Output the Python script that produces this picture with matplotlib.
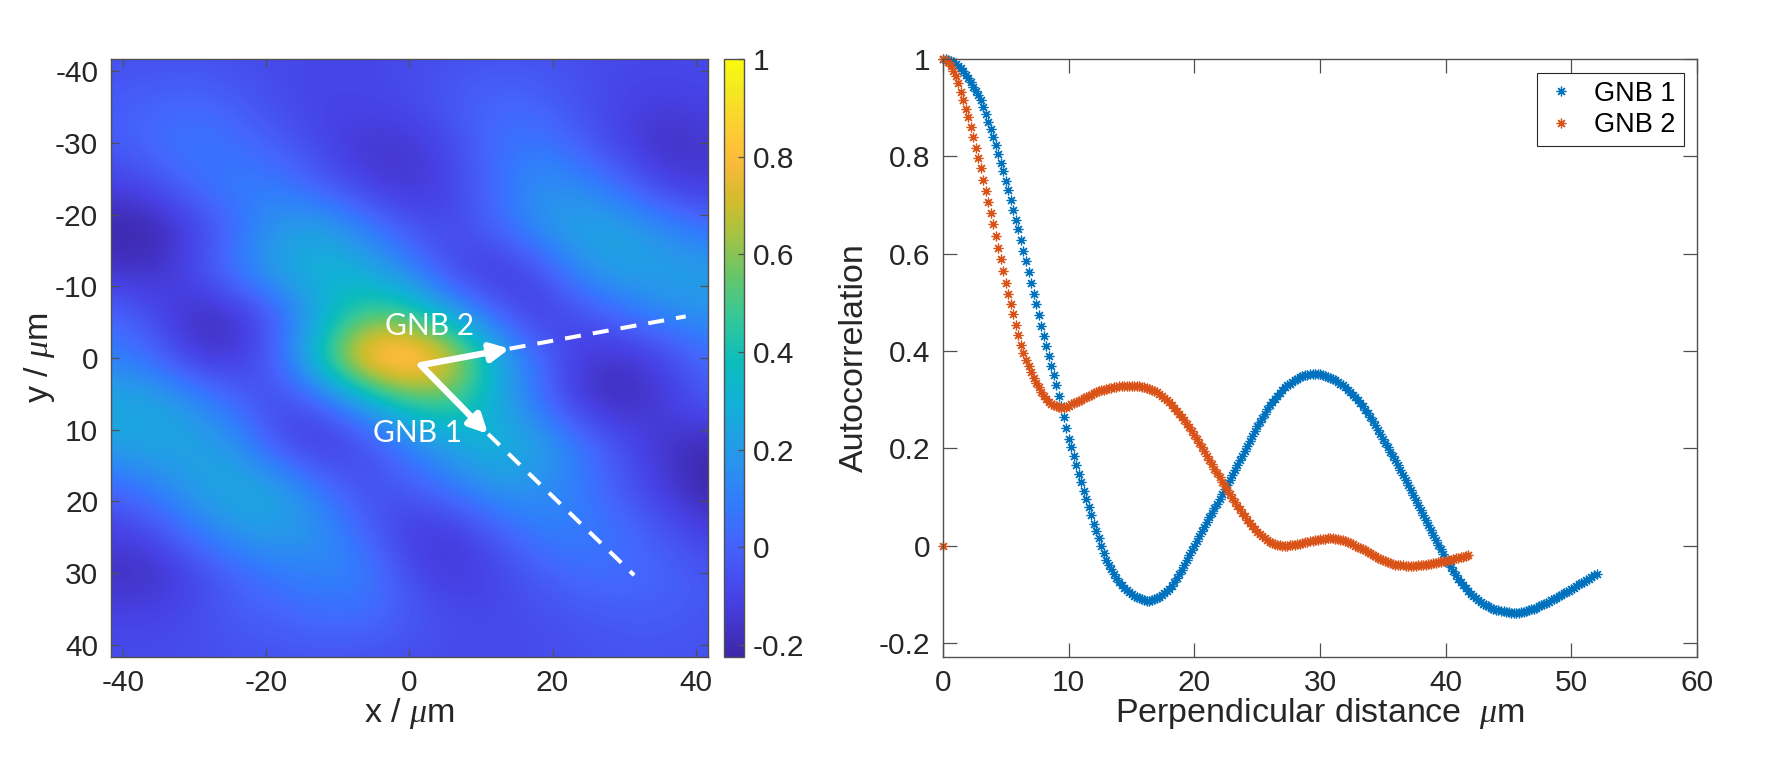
import numpy as np
import matplotlib
matplotlib.use('Agg')
import matplotlib.pyplot as plt
from matplotlib.colors import LinearSegmentedColormap

plt.rcParams['font.family'] = ['Liberation Sans', 'DejaVu Sans']
plt.rcParams['axes.unicode_minus'] = False
plt.rcParams['mathtext.fontset'] = 'custom'
plt.rcParams['mathtext.it'] = 'Liberation Serif:italic'
plt.rcParams['mathtext.rm'] = 'Liberation Sans'

# --- datos del mapa de autocorrelacion (rejilla cada 6 um, y hacia abajo) ---
grid_um = [-42, -36, -30, -24, -18, -12, -6, 0, 6, 12, 18, 24, 30, 36, 42]
acf_map = np.array([
    [-0.06, -0.06, -0.06, -0.07, -0.08, -0.09, -0.09, -0.08, -0.06, -0.05, -0.05, -0.07, -0.08, -0.08, -0.07],
    [-0.02, 0.00, 0.02, -0.02, -0.08, -0.10, -0.09, -0.07, -0.02, 0.02, 0.00, -0.06, -0.10, -0.12, -0.10],
    [-0.02, 0.04, 0.08, 0.04, -0.02, -0.10, -0.16, -0.15, -0.07, 0.04, 0.08, -0.02, -0.12, -0.19, -0.14],
    [-0.12, -0.07, 0.04, 0.10, 0.08, -0.02, -0.12, -0.16, -0.10, 0.04, 0.17, 0.14, 0.02, -0.12, -0.14],
    [-0.23, -0.23, -0.12, 0.04, 0.21, 0.24, 0.10, -0.04, -0.08, 0.01, 0.17, 0.26, 0.24, 0.14, 0.05],
    [-0.16, -0.17, -0.07, 0.10, 0.26, 0.33, 0.28, 0.12, -0.09, -0.16, -0.08, 0.16, 0.24, 0.24, 0.23],
    [0.04, -0.07, -0.19, -0.18, -0.01, 0.28, 0.50, 0.48, 0.22, 0.01, -0.14, -0.07, 0.04, 0.14, 0.18],
    [0.10, 0.04, -0.15, -0.14, 0.04, 0.48, 0.95, 1.00, 0.80, 0.30, 0.04, -0.14, -0.17, -0.10, 0.04],
    [0.27, 0.26, 0.17, 0.01, -0.10, 0.01, 0.23, 0.48, 0.50, 0.27, 0.04, -0.16, -0.20, -0.12, -0.02],
    [0.23, 0.26, 0.24, 0.17, -0.08, -0.16, -0.07, 0.10, 0.24, 0.33, 0.24, 0.08, -0.07, -0.16, -0.21],
    [0.01, 0.10, 0.23, 0.28, 0.24, 0.05, -0.07, -0.02, 0.08, 0.20, 0.17, 0.08, -0.04, -0.15, -0.24],
    [-0.12, -0.07, 0.08, 0.20, 0.23, 0.17, 0.00, -0.14, -0.14, -0.02, 0.10, 0.10, 0.04, -0.05, -0.12],
    [-0.18, -0.19, -0.10, 0.01, 0.08, 0.12, 0.10, -0.07, -0.15, -0.10, -0.02, 0.04, 0.04, 0.01, -0.04],
    [-0.10, -0.10, -0.07, -0.02, 0.00, 0.04, 0.04, -0.02, -0.07, -0.08, -0.07, -0.04, -0.02, -0.02, -0.04],
    [-0.07, -0.07, -0.07, -0.06, -0.05, -0.05, -0.06, -0.07, -0.08, -0.08, -0.07, -0.06, -0.05, -0.05, -0.06],
])

# --- perfiles de autocorrelacion (muestreados cada 0.2 um) ---
step_um = 0.2
acf_gnb1 = [
    1.000, 0.999, 0.998, 0.996, 0.993, 0.990, 0.986, 0.981, 0.975, 0.968,
    0.960, 0.952, 0.943, 0.934, 0.925, 0.915, 0.901, 0.886, 0.871, 0.856,
    0.840, 0.823, 0.805, 0.787, 0.769, 0.750, 0.730, 0.710, 0.690, 0.670,
    0.650, 0.628, 0.606, 0.584, 0.562, 0.540, 0.518, 0.496, 0.474, 0.452,
    0.430, 0.410, 0.390, 0.370, 0.350, 0.330, 0.308, 0.286, 0.264, 0.242,
    0.220, 0.202, 0.184, 0.166, 0.148, 0.130, 0.113, 0.096, 0.079, 0.062,
    0.045, 0.030, 0.015, 0.000, -0.015, -0.030, -0.040, -0.049, -0.058, -0.067,
    -0.075, -0.081, -0.087, -0.092, -0.096, -0.100, -0.103, -0.106, -0.108, -0.110,
    -0.112, -0.113, -0.113, -0.112, -0.110, -0.108, -0.105, -0.101, -0.098, -0.094,
    -0.090, -0.083, -0.075, -0.067, -0.059, -0.050, -0.040, -0.030, -0.020, -0.010,
    0.000, 0.010, 0.019, 0.029, 0.038, 0.048, 0.058, 0.067, 0.077, 0.086,
    0.096, 0.106, 0.116, 0.125, 0.135, 0.145, 0.155, 0.165, 0.175, 0.185,
    0.195, 0.205, 0.215, 0.225, 0.235, 0.245, 0.254, 0.263, 0.271, 0.280,
    0.288, 0.295, 0.302, 0.308, 0.314, 0.320, 0.325, 0.329, 0.333, 0.337,
    0.340, 0.343, 0.346, 0.348, 0.350, 0.351, 0.352, 0.353, 0.353, 0.353,
    0.352, 0.351, 0.349, 0.347, 0.345, 0.343, 0.340, 0.336, 0.333, 0.329,
    0.325, 0.320, 0.315, 0.310, 0.305, 0.300, 0.293, 0.286, 0.279, 0.272,
    0.265, 0.256, 0.247, 0.238, 0.229, 0.220, 0.211, 0.202, 0.193, 0.184,
    0.175, 0.165, 0.155, 0.145, 0.135, 0.125, 0.115, 0.104, 0.094, 0.083,
    0.073, 0.063, 0.053, 0.042, 0.032, 0.022, 0.012, 0.002, -0.008, -0.018,
    -0.028, -0.036, -0.044, -0.052, -0.060, -0.068, -0.075, -0.081, -0.088, -0.094,
    -0.100, -0.104, -0.108, -0.112, -0.116, -0.120, -0.123, -0.125, -0.128, -0.130,
    -0.132, -0.133, -0.134, -0.135, -0.136, -0.137, -0.138, -0.138, -0.138, -0.138,
    -0.137, -0.136, -0.134, -0.133, -0.131, -0.130, -0.128, -0.125, -0.123, -0.120,
    -0.118, -0.115, -0.112, -0.110, -0.107, -0.104, -0.101, -0.098, -0.096, -0.093,
    -0.090, -0.087, -0.084, -0.080, -0.077, -0.074, -0.071, -0.068, -0.064, -0.061,
    -0.058,
]
acf_gnb2 = [
    1.000, 0.998, 0.993, 0.985, 0.976, 0.965, 0.950, 0.933, 0.916, 0.898,
    0.880, 0.860, 0.839, 0.818, 0.797, 0.775, 0.752, 0.729, 0.706, 0.683,
    0.660, 0.636, 0.612, 0.588, 0.564, 0.540, 0.518, 0.497, 0.475, 0.454,
    0.432, 0.413, 0.396, 0.381, 0.368, 0.356, 0.345, 0.335, 0.325, 0.316,
    0.308, 0.302, 0.296, 0.291, 0.288, 0.286, 0.284, 0.283, 0.284, 0.285,
    0.287, 0.290, 0.292, 0.295, 0.297, 0.300, 0.303, 0.305, 0.308, 0.310,
    0.313, 0.315, 0.317, 0.319, 0.320, 0.322, 0.323, 0.324, 0.325, 0.326,
    0.327, 0.327, 0.328, 0.328, 0.328, 0.328, 0.328, 0.327, 0.327, 0.326,
    0.325, 0.323, 0.321, 0.319, 0.317, 0.315, 0.311, 0.307, 0.303, 0.299,
    0.295, 0.289, 0.283, 0.277, 0.271, 0.265, 0.258, 0.250, 0.243, 0.235,
    0.228, 0.219, 0.211, 0.202, 0.194, 0.185, 0.176, 0.167, 0.158, 0.149,
    0.140, 0.131, 0.123, 0.114, 0.106, 0.097, 0.090, 0.082, 0.075, 0.067,
    0.060, 0.053, 0.047, 0.041, 0.034, 0.028, 0.023, 0.019, 0.015, 0.011,
    0.008, 0.006, 0.004, 0.002, 0.001, 0.000, 0.000, 0.000, 0.001, 0.001,
    0.002, 0.003, 0.004, 0.006, 0.007, 0.008, 0.009, 0.010, 0.011, 0.012,
    0.013, 0.014, 0.014, 0.015, 0.015, 0.015, 0.014, 0.013, 0.012, 0.011,
    0.010, 0.008, 0.005, 0.003, 0.000, -0.002, -0.005, -0.008, -0.010, -0.013,
    -0.016, -0.019, -0.022, -0.025, -0.027, -0.030, -0.032, -0.034, -0.036, -0.038,
    -0.039, -0.040, -0.041, -0.041, -0.042, -0.042, -0.042, -0.042, -0.042, -0.041,
    -0.041, -0.040, -0.039, -0.038, -0.037, -0.036, -0.035, -0.034, -0.033, -0.032,
    -0.031, -0.030, -0.029, -0.027, -0.026, -0.025, -0.024, -0.023, -0.021, -0.020,
]
# punto suelto de GNB 2 en el origen
stray_x = [0]
stray_y = [0]

# flechas y lineas de corte (coordenadas en um)
arrow_origin = (1.6, 1.0)
gnb1_tip = (11.0, 10.6)
gnb1_end = (31.4, 30.3)
gnb2_tip = (14.0, -1.3)
gnb2_end = (38.6, -5.8)

# colormap tipo parula
parula = LinearSegmentedColormap.from_list('parula', [
    (0.000, (0.2422, 0.1504, 0.6603)),
    (0.095, (0.2783, 0.2559, 0.8991)),
    (0.190, (0.2699, 0.3892, 0.9906)),
    (0.254, (0.1963, 0.4847, 0.9892)),
    (0.333, (0.1540, 0.5902, 0.9218)),
    (0.429, (0.0689, 0.6948, 0.8394)),
    (0.492, (0.0433, 0.7394, 0.7394)),
    (0.571, (0.2161, 0.7843, 0.5923)),
    (0.635, (0.3909, 0.7778, 0.4180)),
    (0.714, (0.6720, 0.7607, 0.2493)),
    (0.762, (0.8203, 0.7372, 0.1763)),
    (0.825, (0.9728, 0.7288, 0.2263)),
    (0.857, (0.9970, 0.7659, 0.2199)),
    (0.889, (0.9892, 0.8136, 0.1885)),
    (0.952, (0.9553, 0.9135, 0.1282)),
    (1.000, (0.9763, 0.9831, 0.0538)),
])

blue = (0.0, 0.447, 0.741)
orange = (0.85, 0.325, 0.098)
axis_col = '#505050'
text_col = '#262626'
tick_fs = 21.5
label_fs = 24.5

fig = plt.figure(figsize=(17.72, 7.74), dpi=100)

# ---------------- mapa ----------------
ax1 = fig.add_axes([0.0625, 0.1512, 0.3370, 0.7726])
half = (grid_um[1] - grid_um[0]) / 2
im = ax1.imshow(acf_map, cmap=parula, vmin=-0.225, vmax=1.0,
                extent=[grid_um[0] - half, grid_um[-1] + half, grid_um[-1] + half, grid_um[0] - half],
                interpolation='bicubic', interpolation_stage='data', aspect='auto')
ax1.set_xlim(-41.7, 41.7)
ax1.set_ylim(41.7, -41.7)
ax1.set_xticks([-40, -20, 0, 20, 40])
ax1.set_yticks(np.arange(-40, 41, 10))
ax1.tick_params(direction='in', top=True, right=True, length=5.5, width=0.9, pad=9,
                labelsize=tick_fs, colors=axis_col, labelcolor=text_col)
for s in ax1.spines.values():
    s.set_color(axis_col)
    s.set_linewidth(1.0)
ax1.set_xlabel(r'x / $\mu$m', fontsize=label_fs, color=text_col, va='center')
ax1.set_ylabel(r'y / $\mu$m', fontsize=label_fs, color=text_col, va='center')
ax1.xaxis.set_label_coords(0.5, -0.095)
ax1.yaxis.set_label_coords(-0.119, 0.5)

arrow_kw = dict(arrowstyle='-|>', color='white', lw=4.6, mutation_scale=27,
                shrinkA=0, shrinkB=0)
ax1.annotate('', xy=gnb1_tip, xytext=arrow_origin, arrowprops=arrow_kw)
ax1.annotate('', xy=gnb2_tip, xytext=arrow_origin, arrowprops=arrow_kw)
ax1.plot([gnb1_tip[0], gnb1_end[0]], [gnb1_tip[1], gnb1_end[1]], color='white',
         lw=2.9, dashes=(4, 3))
ax1.plot([gnb2_tip[0], gnb2_end[0]], [gnb2_tip[1], gnb2_end[1]], color='white',
         lw=2.9, dashes=(4, 3))
ax1.text(2.8, -4.4, 'GNB 2', color='white', fontsize=21.5, family='Lato',
         ha='center', va='center')
ax1.text(1.2, 10.4, 'GNB 1', color='white', fontsize=21.5, family='Lato',
         ha='center', va='center')

cax = fig.add_axes([0.4086, 0.1512, 0.0115, 0.7726])
cb = fig.colorbar(im, cax=cax, ticks=[-0.2, 0, 0.2, 0.4, 0.6, 0.8, 1])
cb.ax.set_yticklabels(['-0.2', '0', '0.2', '0.4', '0.6', '0.8', '1'])
cb.ax.tick_params(direction='in', length=4, width=0.9, pad=6, labelsize=tick_fs,
                  colors=axis_col, labelcolor=text_col)
cb.outline.set_edgecolor(axis_col)
cb.outline.set_linewidth(1.0)

# ---------------- perfiles ----------------
ax2 = fig.add_axes([0.5322, 0.1512, 0.4255, 0.7726])
dist1 = np.arange(len(acf_gnb1)) * step_um
dist2 = np.arange(len(acf_gnb2)) * step_um
mk = dict(linestyle='none', marker=(8, 2, 0), markersize=7, markeredgewidth=0.9,
          clip_on=False)
ax2.plot(dist1, acf_gnb1, color=blue, label='GNB 1', **mk)
ax2.plot(dist2, acf_gnb2, color=orange, label='GNB 2', **mk)
ax2.plot(stray_x, stray_y, color=orange, **mk)

ax2.set_xlim(0, 60)
ax2.set_ylim(-0.229, 1.0)
ax2.set_xticks(np.arange(0, 61, 10))
ax2.set_yticks([-0.2, 0, 0.2, 0.4, 0.6, 0.8, 1])
ax2.set_yticklabels(['-0.2', '0', '0.2', '0.4', '0.6', '0.8', '1'])
ax2.tick_params(direction='in', top=True, right=True, length=10, width=0.9, pad=9,
                labelsize=tick_fs, colors=axis_col, labelcolor=text_col)
for s in ax2.spines.values():
    s.set_color(axis_col)
    s.set_linewidth(1.0)
ax2.set_xlabel(r'Perpendicular distance  $\mu$m', fontsize=label_fs, color=text_col, va='center')
ax2.set_ylabel('Autocorrelation', fontsize=label_fs, color=text_col, va='center')
ax2.xaxis.set_label_coords(0.5, -0.095)
ax2.yaxis.set_label_coords(-0.117, 0.5)

leg = ax2.legend(loc='upper right', fontsize=19.5, fancybox=False, framealpha=1,
                 edgecolor=text_col, handlelength=1.2, handletextpad=0.6,
                 borderpad=0.3, labelspacing=0.2, borderaxespad=0.5)
leg.get_frame().set_linewidth(0.8)

fig.savefig('out.png', dpi=100)
